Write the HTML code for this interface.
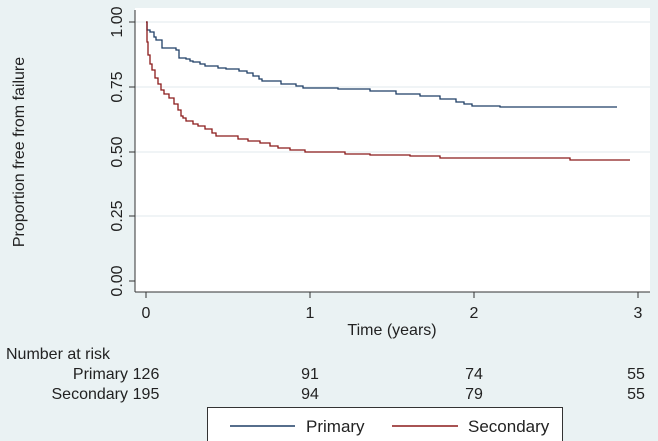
<!DOCTYPE html><html><head><style>body{margin:0}svg{display:block}</style></head><body>
<svg width="658" height="441" xmlns="http://www.w3.org/2000/svg" font-family="Liberation Sans, sans-serif">
<rect width="658" height="441" fill="#eaf2f3"/>
<rect x="135" y="8" width="515" height="284" fill="#fff"/>
<g stroke="#e6eef0" stroke-width="1.2">
<line x1="135" y1="22" x2="650" y2="22"/><line x1="135" y1="87" x2="650" y2="87"/><line x1="135" y1="152" x2="650" y2="152"/><line x1="135" y1="216" x2="650" y2="216"/></g>
<g stroke="#333" stroke-width="1">
<line x1="135" y1="10" x2="135" y2="292"/><line x1="135" y1="292" x2="650" y2="292"/>
<line x1="129" y1="22" x2="135" y2="22"/><line x1="129" y1="87" x2="135" y2="87"/><line x1="129" y1="152" x2="135" y2="152"/><line x1="129" y1="216" x2="135" y2="216"/><line x1="129" y1="281" x2="135" y2="281"/>
<line x1="146" y1="292" x2="146" y2="298"/><line x1="310" y1="292" x2="310" y2="298"/><line x1="474" y1="292" x2="474" y2="298"/><line x1="638" y1="292" x2="638" y2="298"/></g>
<g font-size="16" fill="#222" text-anchor="middle">
<text transform="translate(122,22) rotate(-90)">1.00</text>
<text transform="translate(122,87) rotate(-90)">0.75</text>
<text transform="translate(122,152) rotate(-90)">0.50</text>
<text transform="translate(122,216) rotate(-90)">0.25</text>
<text transform="translate(122,281) rotate(-90)">0.00</text>
<text transform="translate(24,152) rotate(-90)">Proportion free from failure</text>
<text x="146" y="318">0</text><text x="310" y="318">1</text><text x="474" y="318">2</text><text x="638" y="318">3</text>
<text x="392" y="335">Time (years)</text>
<text x="146" y="379">126</text><text x="310" y="379">91</text><text x="474" y="379">74</text><text x="636" y="379">55</text>
<text x="146" y="399">195</text><text x="310" y="399">94</text><text x="474" y="399">79</text><text x="636" y="399">55</text>
</g>
<g font-size="16" fill="#222">
<text x="6" y="359">Number at risk</text>
<text x="128" y="379" text-anchor="end">Primary</text>
<text x="128" y="399" text-anchor="end">Secondary</text>
</g>
<polyline fill="none" stroke="#1f3f66" stroke-width="1.3" points="146,22 147,22 147,30 150,30 150,32 154,32 154,37 156,37 156,40 162,40 162,48 176,48 176,50 179,50 179,58 186,58 186,59 190,59 190,61 193,61 193,62 200,62 200,64 205,64 205,66 218,66 218,68 226,68 226,69 239,69 239,71 247,71 247,73 253,73 253,76 259,76 259,79 262,79 262,81 281,81 281,84 296,84 296,86 303,86 303,88 338,88 338,89 370,89 370,91 396,91 396,94 420,94 420,96 440,96 440,99 456,99 456,102 464,102 464,104 472,104 472,106 500,106 500,107 617,107"/>
<polyline fill="none" stroke="#8b1a1a" stroke-width="1.3" points="146,22 147,22 147,42 148,42 148,55 150,55 150,64 152,64 152,70 155,70 155,78 158,78 158,84 161,84 161,90 164,90 164,94 169,94 169,98 174,98 174,104 178,104 178,110 181,110 181,116 183,116 183,118 186,118 186,121 193,121 193,124 198,124 198,126 205,126 205,129 212,129 212,133 216,133 216,136 238,136 238,139 248,139 248,141 260,141 260,143 270,143 270,146 278,146 278,148 290,148 290,150 305,150 305,152 345,152 345,154 370,154 370,155 410,155 410,156 440,156 440,158 570,158 570,160 630,160"/>
<rect x="207.5" y="407.5" width="355" height="40" fill="#fff" stroke="#333"/>
<line x1="230" y1="426" x2="295" y2="426" stroke="#1f3f66" stroke-width="1.5"/>
<line x1="392" y1="426" x2="458" y2="426" stroke="#8b1a1a" stroke-width="1.5"/>
<g font-size="17" fill="#222"><text x="306" y="432">Primary</text><text x="468" y="432">Secondary</text></g>
</svg></body></html>
